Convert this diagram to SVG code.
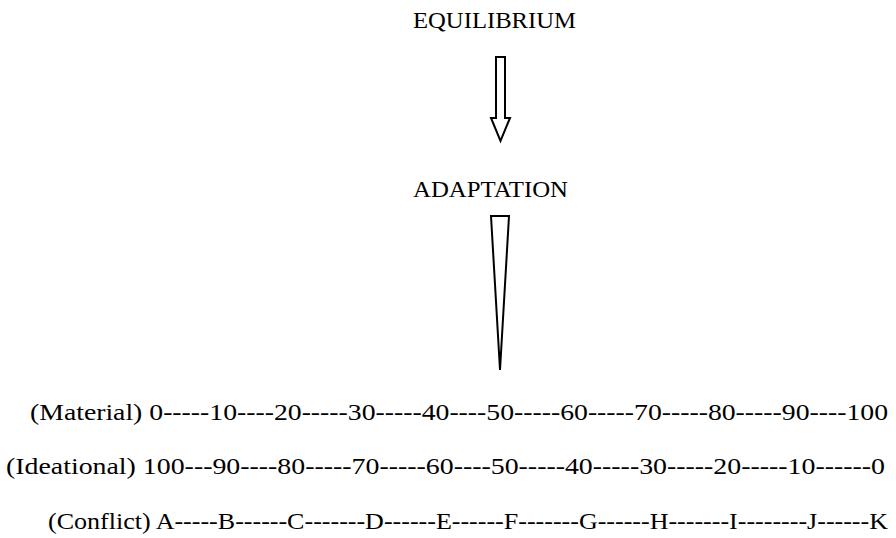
<svg xmlns="http://www.w3.org/2000/svg" width="896" height="538" viewBox="0 0 896 538">
<style>
text{font-family:"Liberation Serif","DejaVu Serif",serif;fill:#000}
.t{font-size:24px}
.s{font-size:24px}
.arr{fill:#fff;stroke:#000;stroke-width:2;stroke-linejoin:miter}
</style>
<rect width="896" height="538" fill="#fff"/>
<g id="equilibrium"><text class="t" x="413" y="28" textLength="163" lengthAdjust="spacingAndGlyphs">EQUILIBRIUM</text></g>
<g id="adaptation"><text class="t" x="413" y="197" textLength="155" lengthAdjust="spacingAndGlyphs">ADAPTATION</text></g>
<g id="connectors">
<path class="arr" d="M496,57 H505 V118 H510 L500.5,141 L491,118 H496 Z"/>
<path class="arr" d="M491,216 H509 L500,370 Z"/>
</g>
<g id="scales">
<text class="s" x="30" y="420" textLength="858" lengthAdjust="spacingAndGlyphs">(Material) 0-----10----20-----30-----40----50-----60-----70-----80-----90----100</text>
<text class="s" x="6" y="474" textLength="879" lengthAdjust="spacingAndGlyphs">(Ideational) 100---90----80-----70-----60----50-----40-----30-----20-----10------0</text>
<text class="s" x="48" y="529" textLength="840" lengthAdjust="spacingAndGlyphs">(Conflict) A-----B------C-------D------E------F-------G------H-------I--------J------K</text>
</g>
</svg>
